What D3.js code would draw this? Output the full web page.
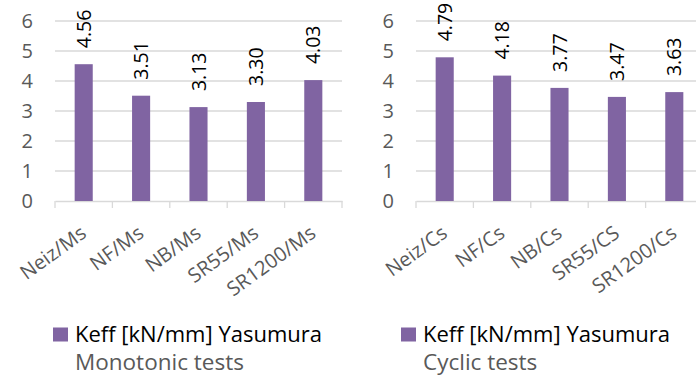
<!DOCTYPE html>
<html>
<head>
<meta charset="utf-8">
<script src="https://cdn.jsdelivr.net/npm/d3@7/dist/d3.min.js"></script>
<style>
  html, body { margin: 0; padding: 0; background: #fff; }
  svg { display: block; font-family: "Open Sans", sans-serif; }
</style>
</head>
<body>
<svg id="chart" width="696" height="376"></svg>
<script>
// Keff values (kN/mm) from the Yasumura method
const monoCategories = ["Neiz/Ms", "NF/Ms", "NB/Ms", "SR55/Ms", "SR1200/Ms"];
const monoValues = [4.56, 3.51, 3.13, 3.30, 4.03];
const cyclicCategories = ["Neiz/Cs", "NF/Cs", "NB/Cs", "SR55/CS", "SR1200/Cs"];
const cyclicValues = [4.79, 4.18, 3.77, 3.47, 3.63];
const yTicks = [0, 1, 2, 3, 4, 5, 6];
const seriesName = "Keff [kN/mm] Yasumura";
const panelTitles = ["Monotonic tests", "Cyclic tests"];

const svg = d3.select("#chart");
const barColor = "#8064a2";
const gridColor = "#d9d9d9";
const tickText = "#595959";

const y = d3.scaleLinear().domain([0, 6]).range([201, 21]);

function panel(opts) {
  const { categories, values, x0, x1, labelX, legendX, title } = opts;
  const g = svg.append("g");
  const x = d3.scaleBand().domain(categories).range([x0, x1]).paddingInner(0.685).paddingOuter(0.3425);
  const xb = d3.scaleBand().domain(categories).range([x0, x1]);

  // gridlines
  g.selectAll("line.grid").data(yTicks.filter(d => d > 0)).join("line")
    .attr("x1", x0).attr("x2", x1)
    .attr("y1", d => y(d)).attr("y2", d => y(d))
    .attr("stroke", gridColor).attr("stroke-width", 1.3);

  // category axis with tick marks between categories
  const xAxis = d3.axisBottom(xb).tickSize(0).tickFormat("");
  const ax = g.append("g").attr("transform", `translate(0,${y(0)})`).call(xAxis);
  ax.select(".domain").attr("stroke", gridColor).attr("stroke-width", 1.3);
  const bounds = categories.map(c => xb(c)).concat([x1]);
  g.selectAll("line.sep").data(bounds).join("line")
    .attr("x1", d => d).attr("x2", d => d)
    .attr("y1", y(0)).attr("y2", y(0) + 7)
    .attr("stroke", gridColor).attr("stroke-width", 1.3);

  // y tick labels
  g.selectAll("text.ytick").data(yTicks).join("text")
    .attr("x", labelX).attr("y", d => y(d))
    .attr("dy", "0.36em")
    .attr("text-anchor", "end")
    .attr("fill", tickText)
    .attr("font-size", 20)
    .text(d => d);

  // bars
  g.selectAll("rect.bar").data(values).join("rect")
    .attr("x", (d, i) => x(categories[i]))
    .attr("width", x.bandwidth())
    .attr("y", d => y(d))
    .attr("height", d => y(0) - y(d))
    .attr("fill", barColor);

  // value labels, rotated
  g.selectAll("text.val").data(values).join("text")
    .attr("transform", (d, i) => `translate(${x(categories[i]) + x.bandwidth() / 2},${y(d) - 16}) rotate(-90)`)
    .attr("dy", "0.36em")
    .attr("text-anchor", "start")
    .attr("fill", "#000")
    .attr("font-size", 19.5)
    .text(d => d.toFixed(2));

  // category labels, slanted
  g.selectAll("text.cat").data(categories).join("text")
    .attr("transform", c => `translate(${xb(c) + xb.bandwidth() / 2 + 4},${y(0) + 35}) rotate(-36)`)
    .attr("text-anchor", "end")
    .attr("fill", tickText)
    .attr("font-size", 20)
    .text(c => c);

  // legend
  g.append("rect").attr("x", legendX).attr("y", 327.5).attr("width", 15).attr("height", 14).attr("fill", barColor);
  g.append("text").attr("x", legendX + 22).attr("y", 341.5)
    .attr("fill", "#000").attr("font-size", 22).text(seriesName);
  g.append("text").attr("x", legendX + 22).attr("y", 370)
    .attr("fill", tickText).attr("font-size", 22.5).text(title);
}

panel({ categories: monoCategories, values: monoValues, x0: 55, x1: 342, labelX: 33, legendX: 53, title: panelTitles[0] });
panel({ categories: cyclicCategories, values: cyclicValues, x0: 416, x1: 703, labelX: 394, legendX: 401, title: panelTitles[1] });
</script>
</body>
</html>
